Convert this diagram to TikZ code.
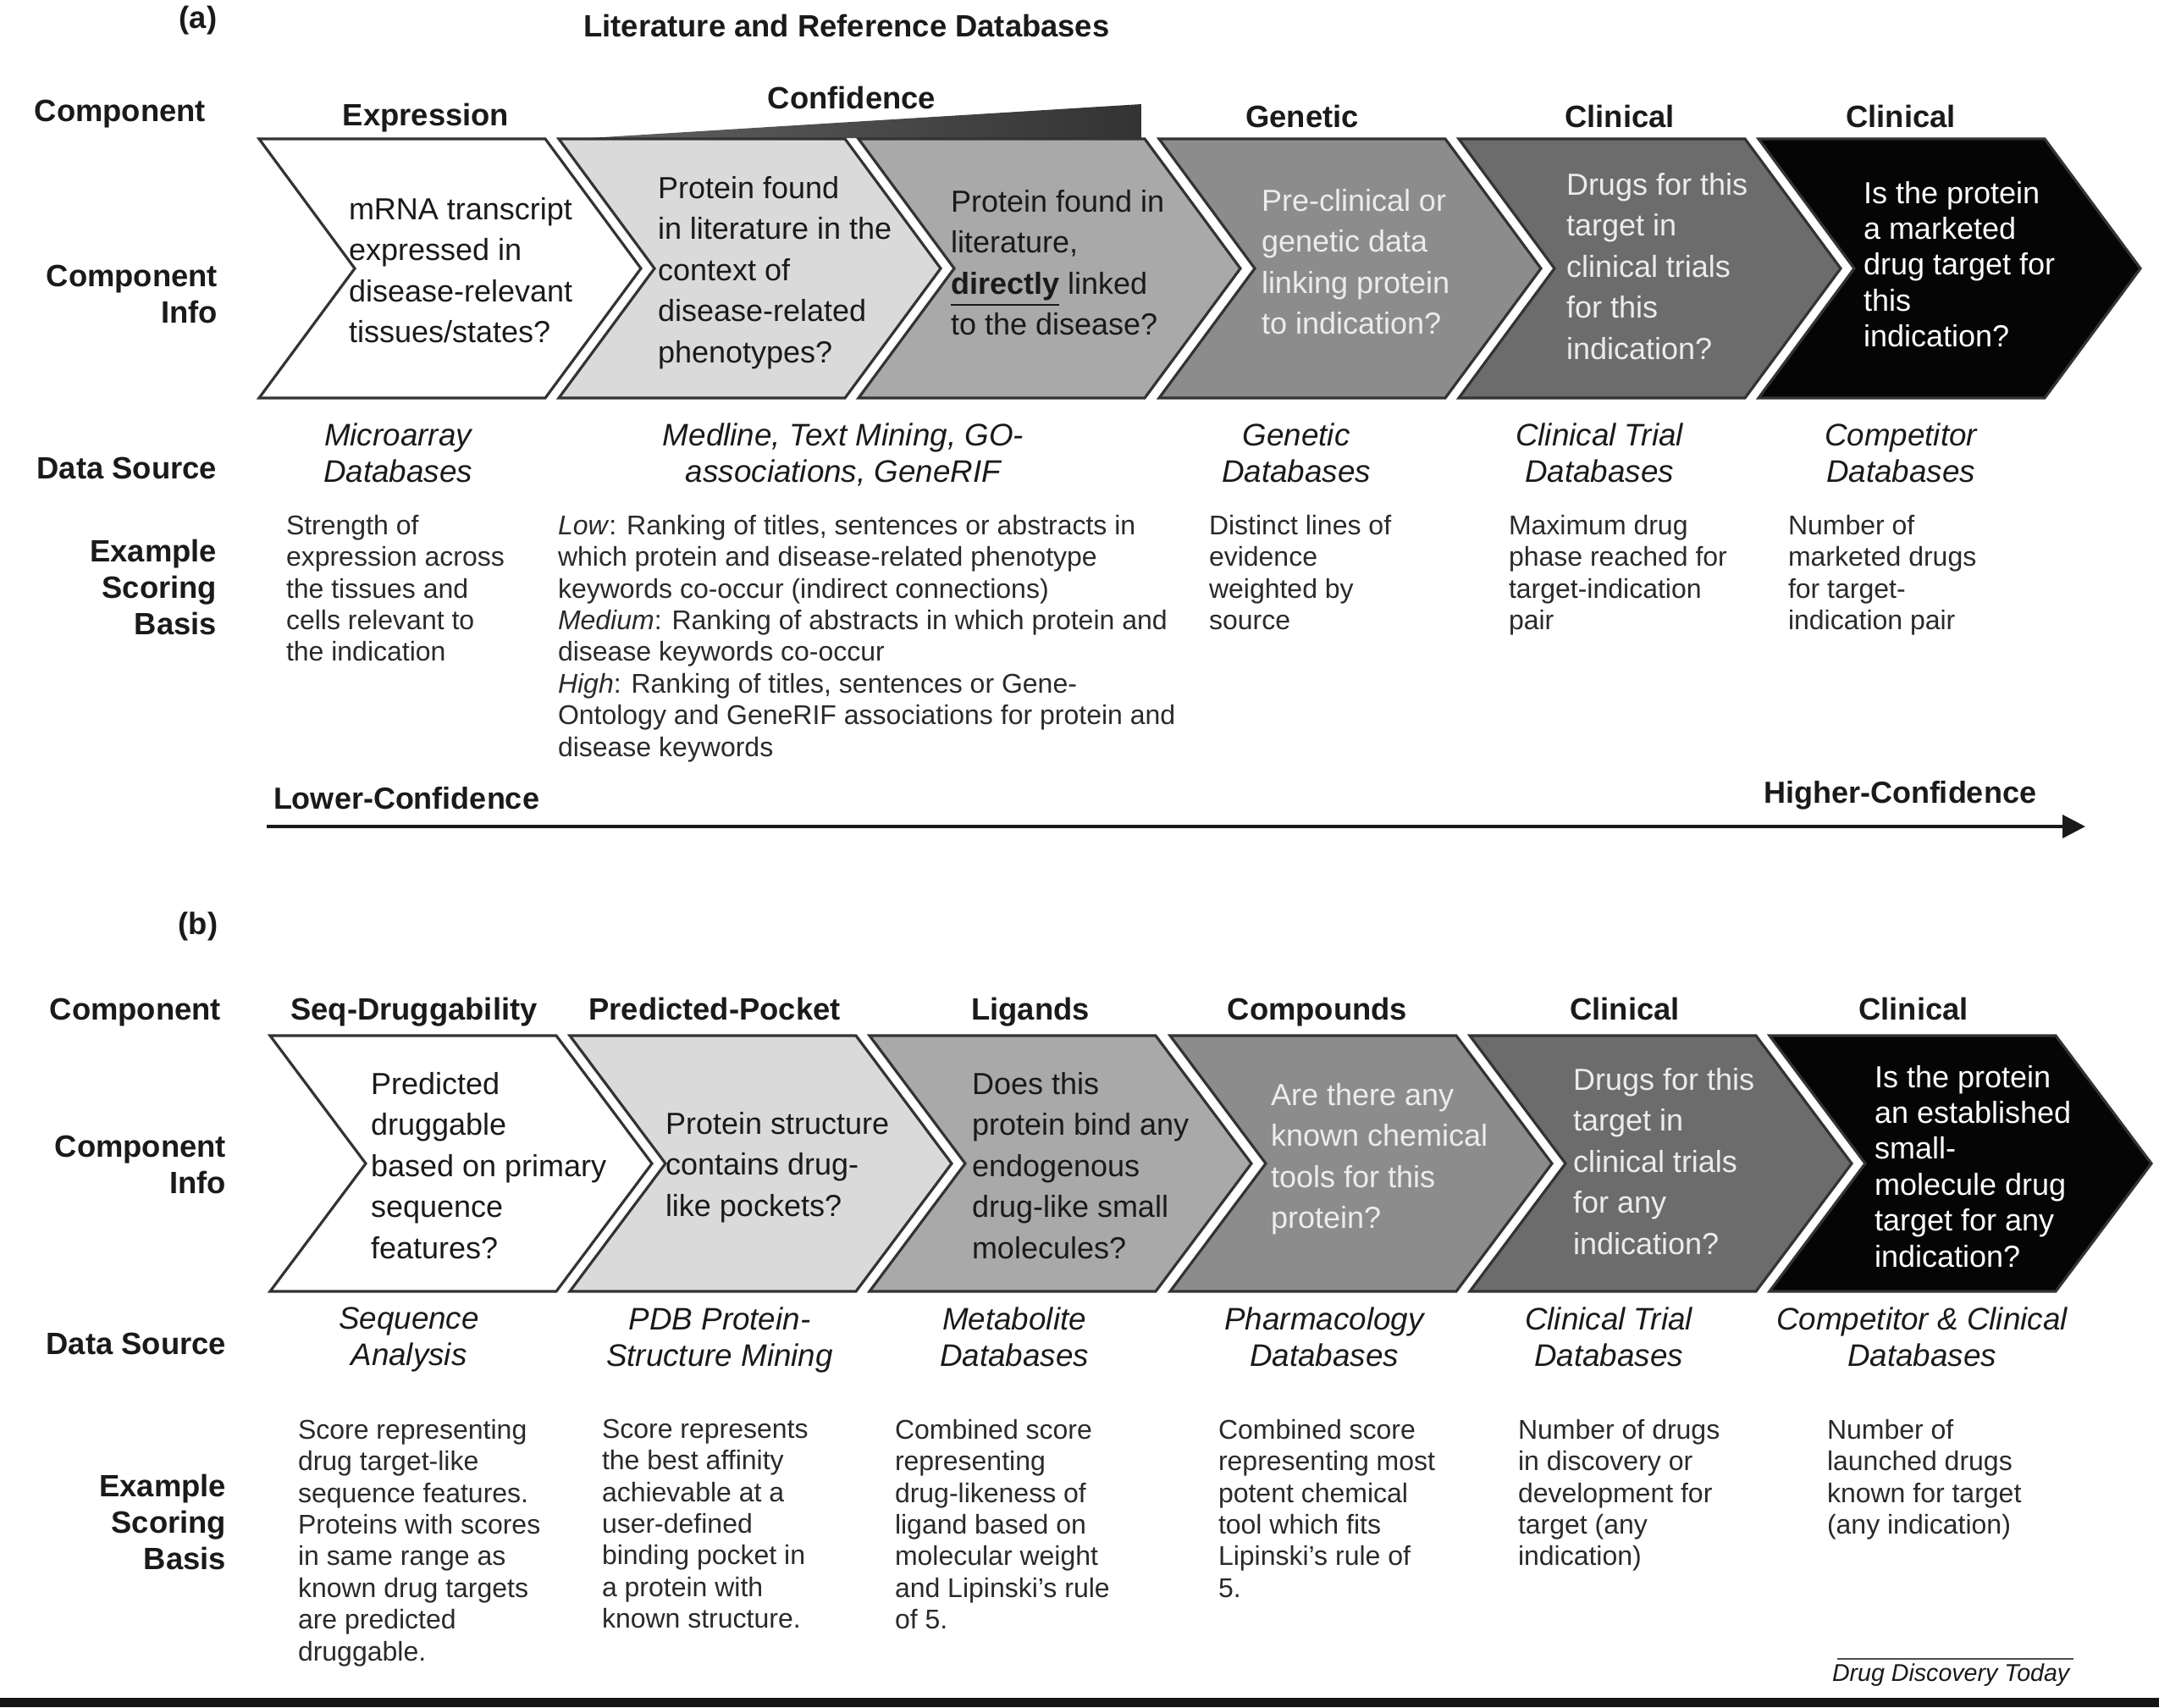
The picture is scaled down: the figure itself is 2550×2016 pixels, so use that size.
\documentclass[tikz,border=0pt]{standalone}
\usepackage{fontspec}
\setmainfont{Liberation Sans}
\usetikzlibrary{arrows.meta}

\definecolor{ink}{HTML}{1A1A1A}
\definecolor{score}{HTML}{2A2A2A}
\definecolor{chA}{HTML}{FFFFFF}
\definecolor{chB}{HTML}{DADADA}
\definecolor{chC}{HTML}{A9A9A9}
\definecolor{chD}{HTML}{8C8C8C}
\definecolor{chE}{HTML}{6C6C6C}
\definecolor{chF}{HTML}{050505}
\definecolor{edge}{HTML}{333333}
\definecolor{paletext}{HTML}{ECECEC}
\definecolor{barblack}{HTML}{141414}

% one chevron: left x, top y, bottom y, fill colour
\newcommand\chev[4]{%
  \filldraw[chevron line, fill=#4]
    (#1,#2) -- ({#1+338},#2) -- ({#1+451},{(#2+#3)/2}) -- ({#1+338},#3)
    -- (#1,#3) -- ({#1+113},{(#2+#3)/2}) -- cycle;}

\tikzset{
  every node/.style={inner sep=0pt, outer sep=0pt, text=ink},
  firstline/.style={execute at begin node={\rule{0pt}{10pt}}, yshift=6pt},
  rowlabel/.style={firstline, font=\fontsize{9.1}{10.75}\selectfont\bfseries, align=right, anchor=north east},
  rowsingle/.style={font=\fontsize{9.1}{10.75}\selectfont\bfseries, anchor=base east},
  colhead/.style={font=\fontsize{9.1}{11}\selectfont\bfseries, anchor=base},
  chevtext/.style={firstline, font=\fontsize{9}{12.125}\selectfont, align=left, anchor=north west},
  chevtight/.style={firstline, font=\fontsize{9}{10.6}\selectfont, align=left, anchor=north west},
  source/.style={firstline, font=\fontsize{9.2}{10.7}\selectfont\itshape, align=center, anchor=north},
  scoring/.style={firstline, font=\fontsize{8}{9.35}\selectfont, align=left, anchor=north west, text=score},
  confidence/.style={font=\fontsize{9}{10}\selectfont\bfseries, anchor=base west},
  chevron line/.style={draw=edge, line width=0.8pt, line join=miter},
  axis/.style={draw=ink, line width=1pt, -{Triangle[length=6.75pt, width=6.75pt]}},
}

\begin{document}
\begin{tikzpicture}[x=0.25pt, y=-0.25pt]
\useasboundingbox (0,0) rectangle (2550,2016);
\fill[white] (0,0) rectangle (2550,2016);

% ---------------- panel (a) ----------------
\node[colhead] (tagA) at (234,33) {(a)};
\node[colhead] (litdb) at (1000,43) {Literature and Reference Databases};

% confidence wedge above the literature chevrons
\shade[left color=black!62, right color=black!80]
  (696,163) -- (1348,123) -- (1348,163) -- cycle;

\chev{306}{164}{470}{chA}
\chev{660}{164}{470}{chB}
\chev{1014}{164}{470}{chC}
\chev{1369}{164}{470}{chD}
\chev{1723}{164}{470}{chE}
\chev{2077}{164}{470}{chF}

\node[rowsingle] (compA) at (243,143) {Component};
\node[rowlabel] (infoA) at (257,337) {Component\\Info};
\node[rowsingle] (srcA) at (256,565) {Data Source};
\node[rowlabel] (basisA) at (256,661) {Example\\Scoring\\Basis};

\node[colhead] (hA1) at (503,148) {Expression};
\node[colhead] (hA2) at (1006,128) {Confidence};
\node[colhead] (hA4) at (1538,150) {Genetic};
\node[colhead] (hA5) at (1913,150) {Clinical};
\node[colhead] (hA6) at (2245,150) {Clinical};

\node[chevtext] (cA1) at (412,257) {mRNA transcript\\expressed in\\disease-relevant\\tissues/states?};
\node[chevtext] (cA2) at (777,232) {Protein found\\in literature in the\\context of\\disease-related\\phenotypes?};
\node[chevtext] (cA3) at (1123,248) {Protein found in\\literature,\\\underline{\textbf{directly}} linked\\to the disease?};
\node[chevtext, text=paletext] (cA4) at (1490,247) {Pre-clinical or\\genetic data\\linking protein\\to indication?};
\node[chevtext, text=paletext] (cA5) at (1850,228) {Drugs for this\\target in\\clinical trials\\for this\\indication?};
\node[chevtight, text=white] (cA6) at (2201,238) {Is the protein\\a marketed\\drug target for\\this\\indication?};

\node[source] (sA1) at (470,524) {Microarray\\Databases};
\node[source] (sA2) at (996,524) {Medline, Text Mining, GO-\\associations, GeneRIF};
\node[source] (sA4) at (1531,524) {Genetic\\Databases};
\node[source] (sA5) at (1889,524) {Clinical Trial\\Databases};
\node[source] (sA6) at (2245,524) {Competitor\\Databases};

\node[scoring] (eA1) at (338,632) {Strength of\\expression across\\the tissues and\\cells relevant to\\the indication};
\node[scoring] (eA2) at (659,632) {\textit{Low}: Ranking of titles, sentences or abstracts in\\which protein and disease-related phenotype\\keywords co-occur (indirect connections)\\\textit{Medium}: Ranking of abstracts in which protein and\\disease keywords co-occur\\\textit{High}: Ranking of titles, sentences or Gene-\\Ontology and GeneRIF associations for protein and\\disease keywords};
\node[scoring] (eA4) at (1428,632) {Distinct lines of\\evidence\\weighted by\\source};
\node[scoring] (eA5) at (1782,632) {Maximum drug\\phase reached for\\target-indication\\pair};
\node[scoring] (eA6) at (2112,632) {Number of\\marketed drugs\\for target-\\indication pair};

\node[confidence] (lowconf) at (323,955) {Lower-Confidence};
\node[confidence] (highconf) at (2083,948) {Higher-Confidence};
\coordinate (axisstart) at (315,976);
\coordinate (axisend) at (2463,976);
\draw[axis] (axisstart) -- (axisend);

% ---------------- panel (b) ----------------
\node[colhead] (tagB) at (234,1103) {(b)};

\chev{319}{1223}{1525}{chA}
\chev{673}{1223}{1525}{chB}
\chev{1027}{1223}{1525}{chC}
\chev{1382}{1223}{1525}{chD}
\chev{1736}{1223}{1525}{chE}
\chev{2090}{1223}{1525}{chF}

\node[rowsingle] (compB) at (261,1204) {Component};
\node[rowlabel] (infoB) at (267,1365) {Component\\Info};
\node[rowsingle] (srcB) at (267,1599) {Data Source};
\node[rowlabel] (basisB) at (267,1765) {Example\\Scoring\\Basis};

\node[colhead] (hB1) at (489,1204) {Seq-Druggability};
\node[colhead] (hB2) at (844,1204) {Predicted-Pocket};
\node[colhead] (hB3) at (1217,1204) {Ligands};
\node[colhead] (hB4) at (1556,1204) {Compounds};
\node[colhead] (hB5) at (1919,1204) {Clinical};
\node[colhead] (hB6) at (2260,1204) {Clinical};

\node[chevtext] (cB1) at (438,1290) {Predicted\\druggable\\based on primary\\sequence\\features?};
\node[chevtext] (cB2) at (786,1337) {Protein structure\\contains drug-\\like pockets?};
\node[chevtext] (cB3) at (1148,1290) {Does this\\protein bind any\\endogenous\\drug-like small\\molecules?};
\node[chevtext, text=paletext] (cB4) at (1501,1303) {Are there any\\known chemical\\tools for this\\protein?};
\node[chevtext, text=paletext] (cB5) at (1858,1285) {Drugs for this\\target in\\clinical trials\\for any\\indication?};
\node[chevtight, text=white] (cB6) at (2214,1282) {Is the protein\\an established\\small-\\molecule drug\\target for any\\indication?};

\node[source] (sB1) at (483,1568) {Sequence\\Analysis};
\node[source] (sB2) at (850,1568) {PDB Protein-\\Structure Mining};
\node[source] (sB3) at (1198,1568) {Metabolite\\Databases};
\node[source] (sB4) at (1564,1568) {Pharmacology\\Databases};
\node[source] (sB5) at (1900,1568) {Clinical Trial\\Databases};
\node[source] (sB6) at (2270,1568) {Competitor \& Clinical\\Databases};

\node[scoring] (eB1) at (352,1700) {Score representing\\drug target-like\\sequence features.\\Proteins with scores\\in same range as\\known drug targets\\are predicted\\druggable.};
\node[scoring] (eB2) at (711,1700) {Score represents\\the best affinity\\achievable at a\\user-defined\\binding pocket in\\a protein with\\known structure.};
\node[scoring] (eB3) at (1057,1700) {Combined score\\representing\\drug-likeness of\\ligand based on\\molecular weight\\and Lipinski's rule\\of 5.};
\node[scoring] (eB4) at (1439,1700) {Combined score\\representing most\\potent chemical\\tool which fits\\Lipinski's rule of\\5.};
\node[scoring] (eB5) at (1793,1700) {Number of drugs\\in discovery or\\development for\\target (any\\indication)};
\node[scoring] (eB6) at (2158,1700) {Number of\\launched drugs\\known for target\\(any indication)};

% journal credit with its rule
\coordinate (creditruleL) at (2170,1959);
\coordinate (creditruleR) at (2449,1959);
\draw[black!70, line width=0.5pt] (creditruleL) -- (creditruleR);
\node[font=\fontsize{7.15}{8}\selectfont\itshape, anchor=base west] (credit) at (2164,1985) {Drug Discovery Today};

% dark strip along the bottom edge
\fill[barblack] (0,2005) rectangle (2550,2016);
\end{tikzpicture}
\end{document}
